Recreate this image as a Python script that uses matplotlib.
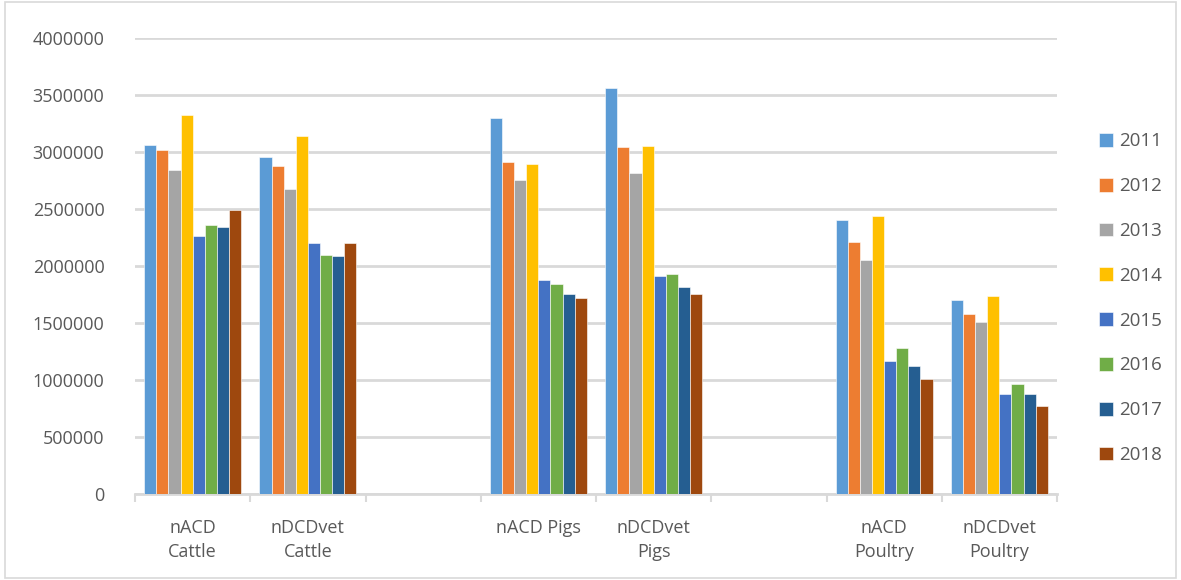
import numpy as np
import matplotlib.pyplot as plt
from matplotlib.patches import Rectangle

plt.rcParams['font.family'] = ['Open Sans', 'DejaVu Sans']

categories = ['nACD\nCattle', 'nDCDvet\nCattle', '', 'nACD Pigs', 'nDCDvet\nPigs', '',
              'nACD\nPoultry', 'nDCDvet\nPoultry']
years = ['2011', '2012', '2013', '2014', '2015', '2016', '2017', '2018']
colors = ['#5B9BD5', '#ED7D31', '#A5A5A5', '#FFC000', '#4472C4', '#70AD47', '#255E91', '#9E480E']

# values per category (empty categories have no bars)
nacd_cattle = [3063000, 3019000, 2840000, 3326000, 2267000, 2357000, 2346000, 2492000]
ndcd_cattle = [2955000, 2876000, 2674000, 3142000, 2199000, 2098000, 2087000, 2199000]
nacd_pigs = [3300000, 2908000, 2753000, 2897000, 1876000, 1840000, 1753000, 1718000]
ndcd_pigs = [3560000, 3046000, 2818000, 3054000, 1908000, 1934000, 1817000, 1753000]
nacd_poultry = [2400000, 2210000, 2050000, 2436000, 1165000, 1280000, 1125000, 1010000]
ndcd_poultry = [1706000, 1583000, 1507000, 1739000, 876000, 967000, 876000, 774000]
empty = [np.nan] * 8

table = np.array([nacd_cattle, ndcd_cattle, empty, nacd_pigs, ndcd_pigs, empty,
                  nacd_poultry, ndcd_poultry], dtype=float)

fig = plt.figure(figsize=(11.81, 5.8), dpi=100)
ax = fig.add_axes([135/1181, 1 - 494/580, (1057-135)/1181, (494-38)/580])

x = np.arange(len(categories))
w = 0.105
for i, yr in enumerate(years):
    ax.bar(x + (i - 3.5) * w, table[:, i], width=w, color=colors[i], label=yr,
           edgecolor='white', linewidth=0.4, zorder=3)

ax.set_xlim(-0.5, len(categories) - 0.5)
ax.set_ylim(0, 4000000)
ax.set_yticks(np.arange(0, 4000001, 500000))
ax.set_yticklabels([str(v) for v in range(0, 4000001, 500000)])
ax.yaxis.grid(True, color='#d9d9d9', linewidth=2, zorder=0)
ax.tick_params(axis='y', length=0, pad=22, labelsize=13, labelcolor='#595959')

ax.set_xticks(x)
ax.set_xticklabels(categories, fontsize=13, color='#595959', va='top', linespacing=1.45)
ax.tick_params(axis='x', length=0, pad=18)
ax.set_xticks(np.arange(-0.5, len(categories)), minor=True)
ax.tick_params(axis='x', which='minor', length=6, width=1.5, color='#d9d9d9')

for s in ['top', 'right', 'left']:
    ax.spines[s].set_visible(False)
ax.spines['bottom'].set_color('#d9d9d9')
ax.spines['bottom'].set_linewidth(2)

leg = ax.legend(loc='upper left', bbox_to_anchor=(1.027, 0.83), frameon=False,
                fontsize=13.5, labelspacing=1.43, handlelength=0.75, handleheight=0.75,
                handletextpad=0.35)
for t in leg.get_texts():
    t.set_color('#595959')

fig.patches.append(Rectangle((0.004, 0.004), 0.992, 0.992, transform=fig.transFigure,
                             fill=False, edgecolor='#d9d9d9', linewidth=1.2))

plt.savefig('out.png', dpi=100)
plt.close()
